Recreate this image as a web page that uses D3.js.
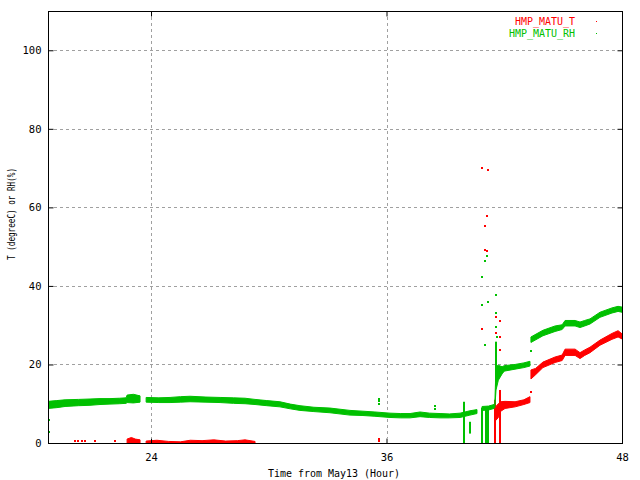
<!DOCTYPE html>
<html><head><meta charset="utf-8">
<script src="https://cdn.jsdelivr.net/npm/d3@7"></script>
<style>body{margin:0;background:#fff}svg{display:block}text{font-family:"DejaVu Sans Mono",monospace}</style>
</head><body><svg id="c" width="640" height="480"></svg>
<script>
// ---- data ----
const xTicks = [24, 36, 48];
const yTicks = [0, 20, 40, 60, 80, 100];
const seriesNames = ["HMP_MATU_T", "HMP_MATU_RH"];

// RH band: time, low, high (null = gap)
const rhTime = [18.75,19.2,19.62,20.3,20.89,21.4,21.91,22.4,22.73,22.78,23.1,23.44,null,
  23.75,24.4,24.97,25.5,25.99,26.8,27.52,28.2,28.79,29.3,29.9,30.57,31.1,31.59,32.3,33.12,34.14,34.8,35.41,36.18,36.7,37.2,37.71,38.2,38.73,39.2,39.75,40.25,40.61,null,
  40.87,41.2,41.48,41.52,41.58,41.7,41.89,42.0,42.55,43.0,43.31,null,
  43.36,43.97,44.59,44.95,45.1,45.61,45.86,46.1,46.37,46.88,47.49,47.8,48.0];
const rhLow = [8.8,9.0,9.3,9.5,9.6,9.8,9.9,10.0,10.1,10.3,10.2,10.4,null,
  10.4,10.3,10.3,10.4,10.5,10.4,10.3,10.1,10.0,9.8,9.5,9.2,8.7,8.3,8.0,7.7,7.1,7.0,6.8,6.5,6.4,6.4,6.7,6.5,6.4,6.4,6.5,7.1,7.5,null,
  8.3,8.4,8.8,9.0,13.5,16.0,17.6,18.3,18.8,19.2,19.6,null,
  25.6,27.3,28.4,28.9,29.8,29.8,29.4,29.8,30.3,32.0,33.1,33.5,33.3];
const rhHigh = [10.6,10.8,11.0,11.1,11.2,11.3,11.3,11.4,11.5,12.2,12.4,12.0,null,
  11.6,11.5,11.6,11.8,11.9,11.7,11.6,11.5,11.4,11.1,10.8,10.5,9.9,9.5,9.1,8.9,8.3,8.1,7.9,7.6,7.5,7.5,7.9,7.6,7.5,7.4,7.6,8.2,8.5,null,
  9.3,9.4,9.8,10.0,19.5,19.8,19.4,19.7,20.0,20.4,20.8,null,
  27.0,28.7,29.8,30.1,31.2,31.2,30.8,31.2,31.6,33.3,34.4,34.8,34.6];

// T band: time, low, high
const tTime = [22.78,23.0,23.2,23.44,null,
  23.75,24.3,24.9,25.5,26.0,26.6,27.2,27.8,28.4,28.79,29.3,null,
  41.52,41.7,41.8,42.04,42.55,43.0,43.31,null,
  43.36,43.6,43.97,44.59,44.95,45.1,45.61,45.86,46.1,46.37,46.88,47.49,47.8,48.0];
const tLow = [-1,-1,-1,-1,null,
  -1,-1,-1,-1,-1,-1,-1,-1,-1,-1,-1,null,
  5.5,6.5,8.0,8.8,9.2,9.8,10.3,null,
  16.3,17.4,19.2,20.5,21.0,22.3,22.3,21.5,22.3,23.0,24.9,26.4,27.0,26.5];
const tHigh = [1.0,1.4,1.0,0.8,null,
  0.5,0.7,0.4,0.3,0.7,0.6,0.8,0.5,0.6,0.8,0.4,null,
  9.0,10.0,10.5,10.6,10.5,11.0,11.8,null,
  18.6,19.0,20.6,21.9,22.4,23.9,23.9,23.0,23.7,24.4,26.2,27.9,28.6,27.8];

// vertical drop-outs: time, from, to
const rhDropTime = [39.96, 40.25, 40.88, 41.05, 41.16, 41.19, 41.58];
const rhDropFrom = [0, 2.4, 0, 0, 0, 0, 14.4];
const rhDropTo   = [10.5, 5.4, 9.0, 9.0, 9.0, 9.0, 25.8];
const tDropTime = [41.55, 41.78];
const tDropFrom = [0, 0];
const tDropTo   = [11.0, 13.5];

// isolated points
const rhDotTime = [18.78,18.78,35.63,35.63,35.63,38.47,38.47,40.88,41.19,41.02,40.88,41.04,41.14,41.6,41.6,41.6,41.62,43.36];
const rhDotVal  = [5.9,2.7,11.2,10.6,10.0,9.5,8.6,35.2,36.0,25.0,42.3,46.4,47.6,37.8,33.0,29.5,27.0,23.3];
const tDotTime = [20.14,20.26,20.48,20.65,21.16,22.14,35.63,35.63,40.88,41.17,41.14,41.04,41.04,41.14,40.88,41.58,41.58,41.58,41.58,41.58,41.78,41.8,41.8,43.35];
const tDotVal  = [0.6,0.5,0.4,0.6,0.5,0.4,1.0,0.5,70.0,69.6,57.7,55.3,49.2,49.0,29.0,32.2,28.0,24.0,19.0,15.0,31.0,27.0,23.7,13.1];

(function () {
const L = 48, R = 622, T = 11, B = 443;
const RED = "#ff0000", GREEN = "#00c000";
const svg = d3.select("#c");
const x = d3.scaleLinear().domain([18.75, 48]).range([L, R]);
const y = d3.scaleLinear().domain([0, 110]).range([B, T]);

// grid
const grid = svg.append("g").attr("stroke", "#a0a0a0").attr("stroke-dasharray", "3,3").attr("stroke-width", 1);
yTicks.filter(v => v > 0).forEach(v => grid.append("line")
  .attr("x1", L + 6).attr("x2", R - 5).attr("y1", Math.round(y(v)) + 0.5).attr("y2", Math.round(y(v)) + 0.5));
xTicks.filter(v => x(v) < R - 1).forEach(v => grid.append("line")
  .attr("y1", T + 6).attr("y2", B - 5).attr("x1", Math.round(x(v)) + 0.5).attr("x2", Math.round(x(v)) + 0.5));

svg.append("clipPath").attr("id", "clip").append("rect").attr("x", L).attr("y", T).attr("width", R - L).attr("height", B - T);
const plot = svg.append("g").attr("clip-path", "url(#clip)");

function band(times, lo, hi, color) {
  const pts = times.map((t, i) => ({t, lo: lo[i], hi: hi[i]}));
  const area = d3.area().defined(d => d.t != null)
    .x(d => x(d.t)).y0(d => y(d.lo)).y1(d => y(d.hi));
  plot.append("path").datum(pts).attr("d", area).attr("fill", color)
    .attr("stroke", color).attr("stroke-width", 1);
}
function drops(times, from, to, color) {
  plot.append("g").selectAll("rect").data(times).join("rect")
    .attr("x", d => Math.round(x(d)) - 1).attr("width", 2)
    .attr("y", (d, i) => y(to[i])).attr("height", (d, i) => y(from[i]) - y(to[i]))
    .attr("fill", color);
}
function dots(times, vals, color) {
  plot.append("g").selectAll("rect").data(times).join("rect")
    .attr("x", d => Math.round(x(d)) - 1).attr("y", (d, i) => Math.round(y(vals[i])) - 1)
    .attr("width", 2).attr("height", 2).attr("fill", color);
}
band(tTime, tLow, tHigh, RED);
drops(tDropTime, tDropFrom, tDropTo, RED);
dots(tDotTime, tDotVal, RED);
band(rhTime, rhLow, rhHigh, GREEN);
drops(rhDropTime, rhDropFrom, rhDropTo, GREEN);
dots(rhDotTime, rhDotVal, GREEN);

// axes
const fmt = d3.format("d");
const ax = svg.append("g");
ax.append("g").attr("transform", `translate(${L + 0.5},0)`)
  .call(d3.axisLeft(y).tickValues(yTicks).tickSizeInner(-5).tickSizeOuter(0).tickPadding(7).tickFormat(fmt));
ax.append("g").attr("transform", `translate(${R + 0.5},0)`)
  .call(d3.axisRight(y).tickValues(yTicks).tickSizeInner(-5).tickSizeOuter(0).tickFormat(""));
ax.append("g").attr("transform", `translate(0,${B + 0.5})`)
  .call(d3.axisBottom(x).tickValues(xTicks).tickSizeInner(-5).tickSizeOuter(0).tickPadding(10).tickFormat(fmt));
ax.append("g").attr("transform", `translate(0,${T + 0.5})`)
  .call(d3.axisTop(x).tickValues(xTicks).tickSizeInner(-5).tickSizeOuter(0).tickFormat(""));
ax.selectAll(".domain").remove();
ax.selectAll("text").attr("font-family", "DejaVu Sans Mono").attr("font-size", 10.5).attr("fill", "#000");
ax.selectAll("line").attr("stroke", "#000");

// border
svg.append("rect").attr("x", L + 0.5).attr("y", T + 0.5).attr("width", R - L).attr("height", B - T)
  .attr("fill", "none").attr("stroke", "#000");

// axis titles
svg.append("text").attr("x", 334).attr("y", 477).attr("text-anchor", "middle")
  .attr("font-size", 10.5).attr("textLength", 132).attr("lengthAdjust", "spacingAndGlyphs")
  .text("Time from May13 (Hour)");
svg.append("text").attr("transform", "translate(15,214) rotate(-90)").attr("text-anchor", "middle")
  .attr("font-size", 10).attr("textLength", 92).attr("lengthAdjust", "spacingAndGlyphs")
  .text("T (degreeC) or RH(%)");

// legend
[RED, GREEN].forEach((c, i) => {
  svg.append("text").attr("x", 575).attr("y", 25 + i * 12).attr("text-anchor", "end")
    .attr("font-size", 10.5).attr("textLength", i ? 66 : 60).attr("lengthAdjust", "spacingAndGlyphs")
    .attr("fill", c).text(seriesNames[i]);
  svg.append("rect").attr("x", 596).attr("y", 21 + i * 12).attr("width", 1).attr("height", 1).attr("fill", c);
});
})();
</script></body></html>
